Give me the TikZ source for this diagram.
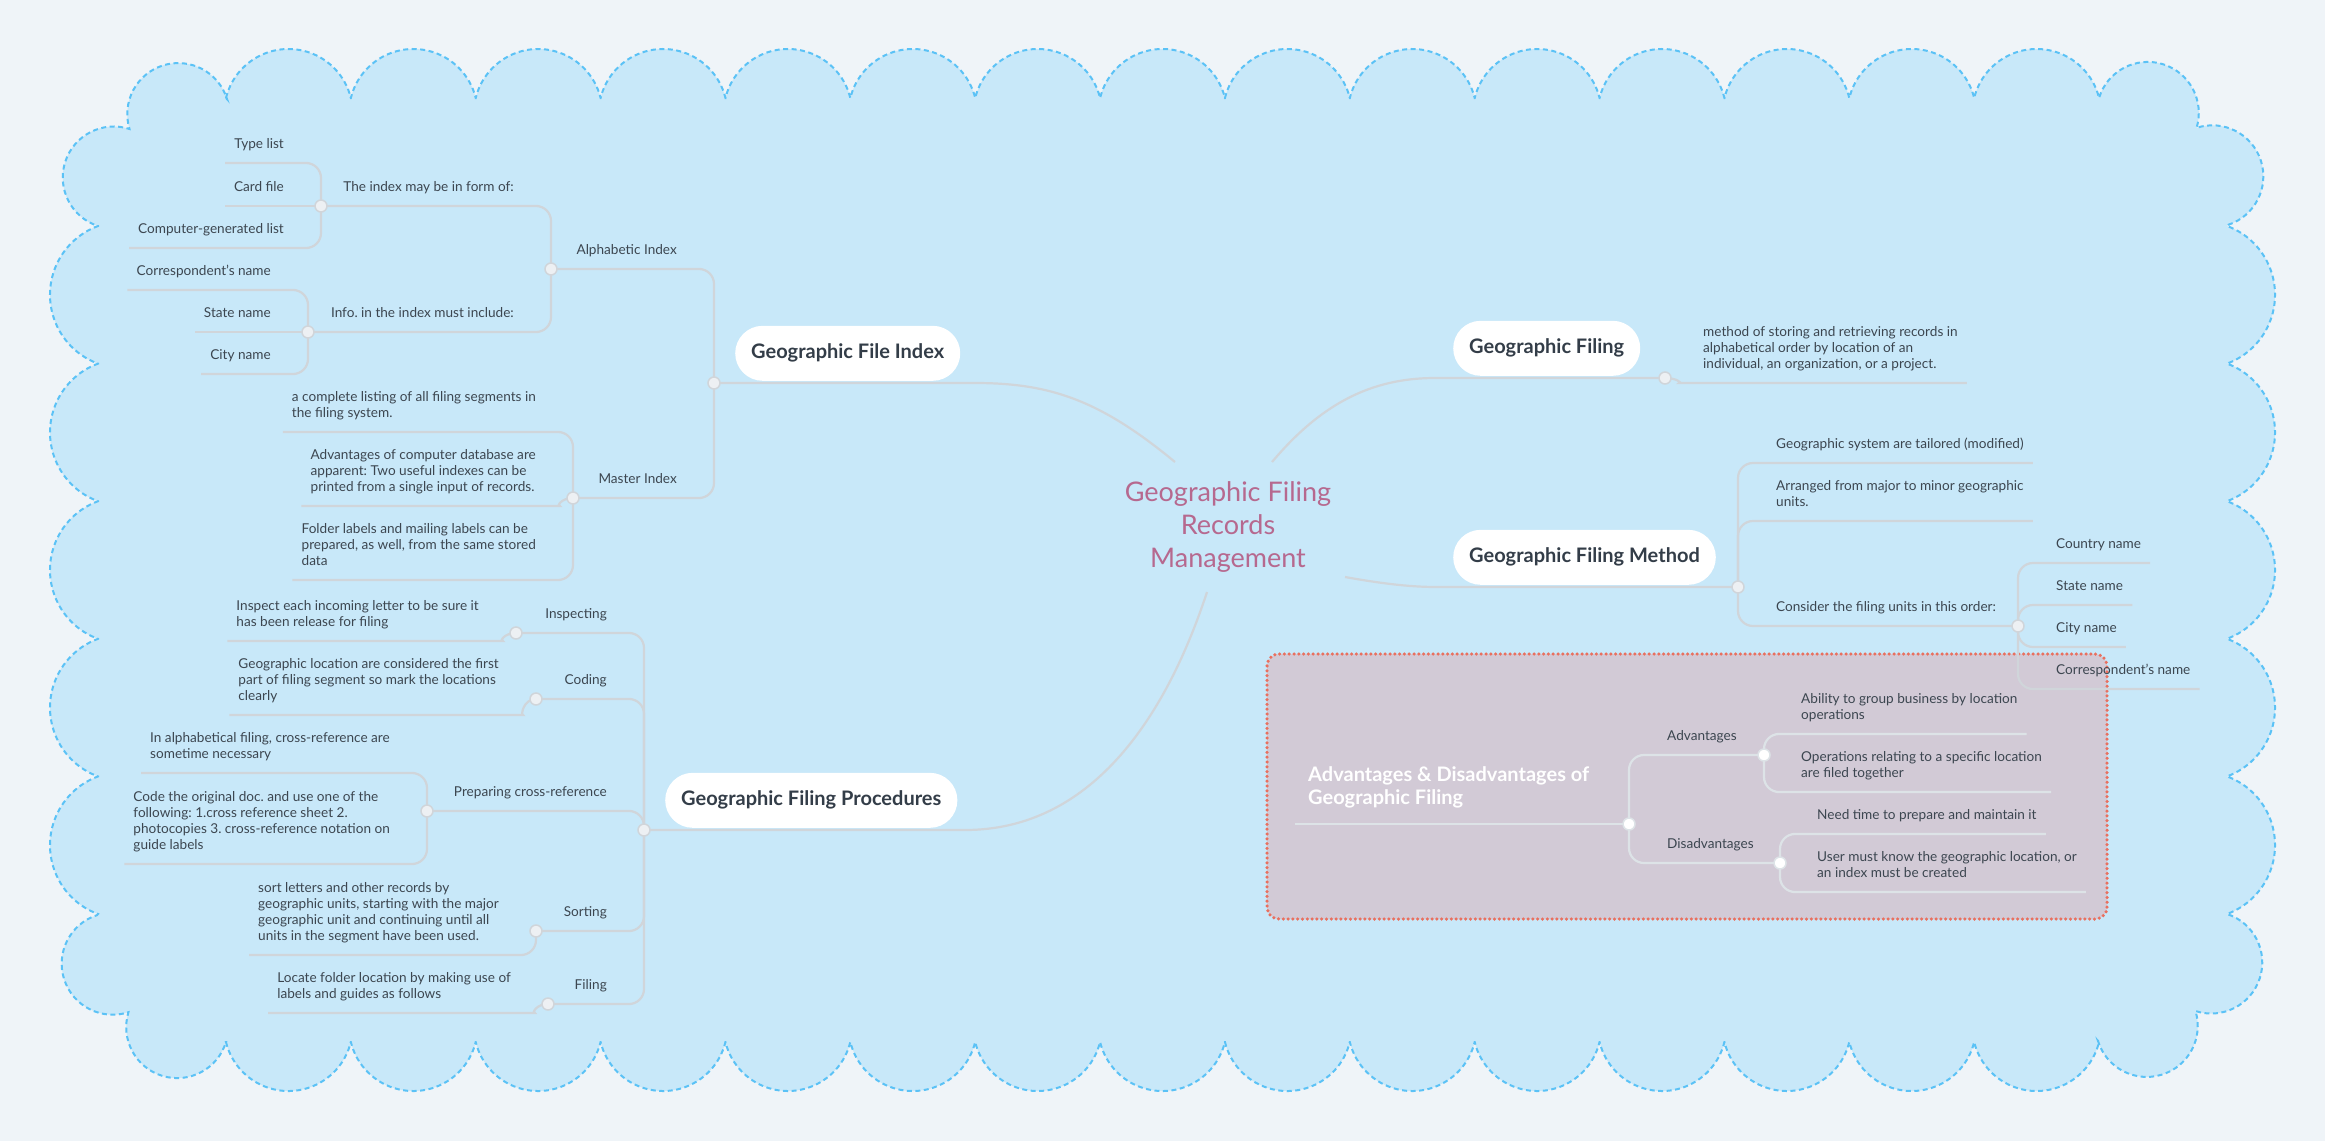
\documentclass[tikz,border=0pt]{standalone}
\usepackage{fontspec}
\setmainfont{Lato}
\definecolor{pagebg}{HTML}{EFF4F8}
\definecolor{cloudfill}{HTML}{C8E8F9}
\definecolor{cloudline}{HTML}{5BC2F6}
\definecolor{linec}{HTML}{D0D5DA}
\definecolor{boxline}{HTML}{DDE3E7}
\definecolor{txtc}{HTML}{3C4650}
\definecolor{pillc}{HTML}{333D48}
\definecolor{rootc}{HTML}{B6698F}
\definecolor{bndfill}{HTML}{D2CAD6}
\definecolor{bndline}{HTML}{E9705F}
\definecolor{dotfill}{HTML}{EDF0F3}
\frenchspacing

\begin{document}
\begin{tikzpicture}[x=1pt, y=-1pt,
    leaf/.style={font=\fontsize{13.6}{16}\selectfont, text=txtc, align=left,
      inner xsep=9pt, inner ysep=9.2pt, execute at end node=\strut},
    lft/.style={leaf, anchor=south east},
    rgt/.style={leaf, anchor=south west},
    pill/.style={font=\fontsize{20}{24}\selectfont\bfseries, text=pillc, fill=white,
      rounded corners=27.5pt, minimum height=55pt, inner xsep=16pt, anchor=south west},
    conn/.style={draw=linec, line width=2.2pt, rounded corners=15pt},
    bconn/.style={conn, draw=boxline},
    dot/.style={circle, fill=dotfill, draw=linec, line width=1.5pt, minimum size=12pt, inner sep=0pt},
    bdot/.style={dot, fill=white, draw=boxline}]
      \useasboundingbox (0,0) rectangle (2325,1141);
      \fill[pagebg] (0,0) rectangle (2325,1141);

      \path[fill=cloudfill, draw=cloudline, line width=2pt, dash pattern=on 5pt off 3.5pt] (226,98)
        \foreach \i in {0,...,14} { -- ({226+124.87*\i},98) arc[start angle=166.25, end angle=13.75, radius=64.27pt] }
        -- (2099,98) arc[start angle=163, end angle=-17, radius=51pt]
        arc[start angle=108, end angle=-72, radius=51pt]
        \foreach \i in {0,...,4} { -- (2227,{226+137.6*\i}) arc[start angle=69.8, end angle=-69.8, radius=73.3pt] }
        -- (2227,914) arc[start angle=72, end angle=-108, radius=51pt]
        arc[start angle=17, end angle=-163, radius=51pt]
        \foreach \i in {0,...,14} { -- ({2099-124.87*\i},1042) arc[start angle=-13.75, end angle=-166.25, radius=64.27pt] }
        -- (226,1042) arc[start angle=-17, end angle=-197, radius=51pt]
        arc[start angle=-72, end angle=-252, radius=51pt]
        \foreach \i in {0,...,4} { -- (98,{914-137.6*\i}) arc[start angle=249.8, end angle=110.2, radius=73.3pt] }
        -- (98,226) arc[start angle=252, end angle=72, radius=51pt]
        arc[start angle=197, end angle=17, radius=51pt] -- cycle;

      \draw[draw=bndline, fill=bndfill, line width=3.5pt, line cap=round, dash pattern=on 0pt off 4.8pt,
        rounded corners=12pt] (1267,654) rectangle (2107,919);

      \node[font=\fontsize{27}{33}\selectfont, text=rootc, align=center] (root) at (1228,527)
        {Geographic Filing\\Records\\Management};
      \node[pill] (fidx) at (735,381) {Geographic File Index};
      \node[pill] (proc) at (665,828) {Geographic Filing Procedures};
      \node[pill] (gfil) at (1453,376) {Geographic Filing};
      \node[pill] (gmeth) at (1453,585) {Geographic Filing Method};

      \coordinate (rFI) at (1175,462);
      \coordinate (rPR) at (1207,592);
      \coordinate (rGF) at (1272,462);
      \coordinate (rGM) at (1345,577);
      \coordinate (jFI) at (714,383);
      \coordinate (jAI) at (551,269);
      \coordinate (jIF) at (321,206);
      \coordinate (jII) at (308,332);
      \coordinate (jMI) at (573,498);
      \coordinate (jPR) at (644,830);
      \coordinate (jIN) at (516,633);
      \coordinate (jCO) at (536,699);
      \coordinate (jPC) at (427,811);
      \coordinate (jSO) at (536,931);
      \coordinate (jFL) at (548,1004);
      \coordinate (jGF) at (1665,378);
      \coordinate (jGM) at (1738,587);
      \coordinate (jCF) at (2018,626);
      \coordinate (jAD) at (1629,824);
      \coordinate (jAV) at (1764,755);
      \coordinate (jDV) at (1780,863);

      \node[lft] (alpha) at (686,269) {Alphabetic Index};
      \node[lft] (idxform) at (523,206) {The index may be in form of:};
      \node[lft] (typel) at (293,163) {Type list};
      \node[lft] (cardf) at (293,206) {Card file};
      \node[lft] (compl) at (293,248) {Computer-generated list};
      \node[lft] (idxinfo) at (523,332) {Info. in the index must include:};
      \node[lft] (corrn) at (280,290) {Correspondent's name};
      \node[lft] (staten) at (280,332) {State name};
      \node[lft] (cityn) at (280,374) {City name};
      \node[lft] (master) at (686,498) {Master Index};
      \node[lft] (mi1) at (545,432) {a complete listing of all filing segments in\\the filing system.};
      \node[lft] (mi2) at (545,506) {Advantages of computer database are\\apparent: Two useful indexes can be\\printed from a single input of records.};
      \node[lft] (mi3) at (545,580) {Folder labels and mailing labels can be\\prepared, as well, from the same stored\\data};
      \node[lft] (insp) at (616,633) {Inspecting};
      \node[lft] (insp1) at (488,641) {Inspect each incoming letter to be sure it\\has been release for filing};
      \node[lft] (cod) at (616,699) {Coding};
      \node[lft] (cod1) at (508,715) {Geographic location are considered the first\\part of filing segment so mark the locations\\clearly};
      \node[lft] (prep) at (616,811) {Preparing cross-reference};
      \node[lft] (prep1) at (399,773) {In alphabetical filing, cross-reference are\\sometime necessary};
      \node[lft] (prep2) at (399,864) {Code the original doc. and use one of the\\following: 1.cross reference sheet 2.\\photocopies 3. cross-reference notation on\\guide labels};
      \node[lft] (sort) at (616,931) {Sorting};
      \node[lft] (sort1) at (508,955) {sort letters and other records by\\geographic units, starting with the major\\geographic unit and continuing until all\\units in the segment have been used.};
      \node[lft] (fil) at (616,1004) {Filing};
      \node[lft] (fil1) at (520,1013) {Locate folder location by making use of\\labels and guides as follows};

      \node[rgt] (gfdef) at (1694,383) {method of storing and retrieving records in\\alphabetical order by location of an\\individual, an organization, or a project.};
      \node[rgt] (gm1) at (1767,463) {Geographic system are tailored (modified)};
      \node[rgt] (gm2) at (1767,521) {Arranged from major to minor geographic\\units.};
      \node[rgt] (gm3) at (1767,626) {Consider the filing units in this order:};
      \node[rgt] (cou) at (2047,563) {Country name};
      \node[rgt] (sta2) at (2047,605) {State name};
      \node[rgt] (cit2) at (2047,647) {City name};
      \node[rgt] (cor2) at (2047,689) {Correspondent's name};

      \node[font=\fontsize{20}{23}\selectfont\bfseries, text=white, align=left, anchor=south west,
        inner xsep=13pt, inner ysep=12pt, execute at end node=\strut] (advt) at (1295,824)
        {Advantages \& Disadvantages of\\Geographic Filing};
      \node[rgt] (adv) at (1658,755) {Advantages};
      \node[rgt] (dis) at (1658,863) {Disadvantages};
      \node[rgt] (adv1) at (1792,734) {Ability to group business by location\\operations};
      \node[rgt] (adv2) at (1792,792) {Operations relating to a specific location\\are filed together};
      \node[rgt] (dis1) at (1808,834) {Need time to prepare and maintain it};
      \node[rgt] (dis2) at (1808,892) {User must know the geographic location, or\\an index must be created};

      \draw[conn] (rFI) .. controls (1100,400) and (1050,383) .. (960,383) -- (jFI);
      \draw[conn] (rPR) .. controls (1165,720) and (1090,830) .. (950,830) -- (jPR);
      \draw[conn] (rGF) .. controls (1320,405) and (1370,378) .. (1450,378) -- (jGF);
      \draw[conn] (rGM) .. controls (1395,586) and (1420,587) .. (1453,587) -- (jGM);

      \draw[conn] (jFI) |- (alpha.south east) -- (jAI);
      \draw[conn] (jFI) |- (master.south east) -- (jMI);
      \draw[conn] (jAI) |- (idxform.south east) -- (jIF);
      \draw[conn] (jAI) |- (idxinfo.south east) -- (jII);
      \draw[conn] (jIF) |- (typel.south east) -- (typel.south west);
      \draw[conn] (jIF) -- (cardf.south east) -- (cardf.south west);
      \draw[conn] (jIF) |- (compl.south east) -- (compl.south west);
      \draw[conn] (jII) |- (corrn.south east) -- (corrn.south west);
      \draw[conn] (jII) -- (staten.south east) -- (staten.south west);
      \draw[conn] (jII) |- (cityn.south east) -- (cityn.south west);
      \draw[conn] (jMI) |- (mi1.south east) -- (mi1.south west);
      \draw[conn] (jMI) to[out=180, in=0] (mi2.south east) -- (mi2.south west);
      \draw[conn] (jMI) |- (mi3.south east) -- (mi3.south west);

      \draw[conn] (jPR) |- (insp.south east) -- (jIN);
      \draw[conn] (jPR) |- (cod.south east) -- (jCO);
      \draw[conn] (jPR) |- (prep.south east) -- (jPC);
      \draw[conn] (jPR) |- (sort.south east) -- (jSO);
      \draw[conn] (jPR) |- (fil.south east) -- (jFL);
      \draw[conn] (jIN) to[out=180, in=0] (insp1.south east) -- (insp1.south west);
      \draw[conn] (jCO) to[out=180, in=0] (cod1.south east) -- (cod1.south west);
      \draw[conn] (jPC) |- (prep1.south east) -- (prep1.south west);
      \draw[conn] (jPC) |- (prep2.south east) -- (prep2.south west);
      \draw[conn] (jSO) |- (sort1.south east) -- (sort1.south west);
      \draw[conn] (jFL) to[out=180, in=0] (fil1.south east) -- (fil1.south west);

      \draw[conn] (jGF) to[out=0, in=180] (gfdef.south west) -- (gfdef.south east);
      \draw[conn] (jGM) |- (gm1.south west) -- (gm1.south east);
      \draw[conn] (jGM) |- (gm2.south west) -- (gm2.south east);
      \draw[conn] (jGM) |- (gm3.south west) -- (jCF);
      \draw[conn] (jCF) |- (cou.south west) -- (cou.south east);
      \draw[conn] (jCF) |- (sta2.south west) -- (sta2.south east);
      \draw[conn] (jCF) |- (cit2.south west) -- (cit2.south east);
      \draw[conn] (jCF) |- (cor2.south west) -- (cor2.south east);

      \draw[bconn] (advt.south west) -- (jAD);
      \draw[bconn] (jAD) |- (adv.south west) -- (jAV);
      \draw[bconn] (jAD) |- (dis.south west) -- (jDV);
      \draw[bconn] (jAV) |- (adv1.south west) -- (adv1.south east);
      \draw[bconn] (jAV) |- (adv2.south west) -- (adv2.south east);
      \draw[bconn] (jDV) |- (dis1.south west) -- (dis1.south east);
      \draw[bconn] (jDV) |- (dis2.south west) -- (dis2.south east);

      \foreach \j in {jFI,jAI,jIF,jII,jMI,jPR,jIN,jCO,jPC,jSO,jFL,jGF,jGM,jCF}
        \node[dot] at (\j) {};
      \foreach \j in {jAD,jAV,jDV}
        \node[bdot] at (\j) {};
\end{tikzpicture}
\end{document}
